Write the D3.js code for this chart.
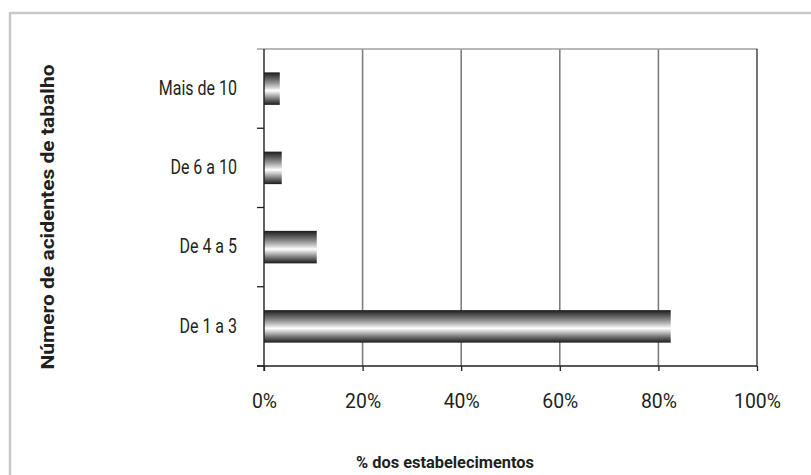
<!DOCTYPE html>
<html>
<head>
<meta charset="utf-8">
<script src="https://cdn.jsdelivr.net/npm/d3@7"></script>
<style>
  html, body { margin: 0; padding: 0; background: #fff; }
  svg { display: block; }
  text { font-family: Roboto, "Liberation Sans", sans-serif; fill: #231f20; }
</style>
</head>
<body>
<svg id="chart" width="811" height="475"></svg>
<script>
// Número de acidentes de tabalho por faixa, em % dos estabelecimentos
const categories = ["Mais de 10", "De 6 a 10", "De 4 a 5", "De 1 a 3"];
const shares = [3.2, 3.6, 10.7, 82.5];
const tickValues = [0, 20, 40, 60, 80, 100];
const xTitle = "% dos estabelecimentos";
const yTitle = "Número de acidentes de tabalho";

const svg = d3.select("#chart");
const plot = { left: 264, right: 757, top: 49, bottom: 366 };

// Frame (top and left rules)
svg.append("line").attr("x1", 10).attr("x2", 811).attr("y1", 13).attr("y2", 13)
  .attr("stroke", "#c8c8c8").attr("stroke-width", 2.5);
svg.append("line").attr("x1", 10).attr("x2", 10).attr("y1", 12).attr("y2", 475)
  .attr("stroke", "#c8c8c8").attr("stroke-width", 2.5);

const x = d3.scaleLinear().domain([0, 100]).range([plot.left, plot.right]);
const y = d3.scaleBand().domain(categories).range([plot.top, plot.bottom])
  .paddingInner(0.59).paddingOuter(0.295);

// Bar shading: dark edges, light centre
const defs = svg.append("defs");
const grad = defs.append("linearGradient").attr("id", "barShade")
  .attr("x1", 0).attr("y1", 0).attr("x2", 0).attr("y2", 1);
[[0, "#1a1a1a"], [0.12, "#474747"], [0.3, "#888888"], [0.48, "#d6d6d6"], [0.56, "#ffffff"],
 [0.66, "#cccccc"], [0.84, "#6a6a6a"], [1, "#1c1c1c"]]
  .forEach(([o, c]) => grad.append("stop").attr("offset", o).attr("stop-color", c));

// Vertical gridlines
svg.append("g").selectAll("line").data(tickValues.filter(d => d > 0 && d < 100)).join("line")
  .attr("x1", d => x(d)).attr("x2", d => x(d))
  .attr("y1", plot.top).attr("y2", plot.bottom)
  .attr("stroke", "#7e7e7e").attr("stroke-width", 1.6);

// Plot area border (top and right)
svg.append("line").attr("x1", plot.left - 7).attr("x2", plot.right + 0.5)
  .attr("y1", plot.top).attr("y2", plot.top)
  .attr("stroke", "#a0a0a0").attr("stroke-width", 1.6);
svg.append("line").attr("x1", plot.right).attr("x2", plot.right)
  .attr("y1", plot.top).attr("y2", plot.bottom)
  .attr("stroke", "#3a3a3a").attr("stroke-width", 1.4);

// Bars
svg.append("g").selectAll("rect").data(categories).join("rect")
  .attr("x", x(0))
  .attr("y", d => y(d))
  .attr("width", (d, i) => x(shares[i]) - x(0))
  .attr("height", y.bandwidth())
  .attr("fill", "url(#barShade)");

// Category boundary ticks
const bounds = d3.range(1, categories.length + 1)
  .map(i => plot.top + i * (plot.bottom - plot.top) / categories.length);
svg.append("g").selectAll("line").data(bounds).join("line")
  .attr("x1", plot.left - 7).attr("x2", plot.left)
  .attr("y1", d => d).attr("y2", d => d)
  .attr("stroke", "#231f20").attr("stroke-width", 1.3);

// Category axis line
svg.append("line").attr("x1", plot.left).attr("x2", plot.left)
  .attr("y1", plot.top).attr("y2", plot.bottom + 5)
  .attr("stroke", "#231f20").attr("stroke-width", 1.4);

// Category labels (condensed)
svg.append("g").selectAll("text").data(categories).join("text")
  .attr("transform", d => `translate(237,${y(d) + y.bandwidth() / 2 - 1}) scale(0.8,1)`)
  .attr("dy", "0.36em")
  .attr("text-anchor", "end")
  .style("font-size", "20px")
  .text(d => d);

// Value axis
const xAxis = d3.axisBottom(x).tickValues(tickValues)
  .tickFormat(d => d + "%").tickSize(5).tickPadding(23);
const gx = svg.append("g").attr("transform", `translate(0,${plot.bottom})`).call(xAxis);
gx.select(".domain").remove();
gx.selectAll(".tick line").attr("stroke", "#231f20").attr("stroke-width", 1.3);
gx.selectAll(".tick text")
  .style("font-size", "20px").style("font-family", "Roboto, sans-serif")
  .attr("fill", "#231f20")
  .attr("transform", "scale(0.97,1)");
svg.append("line").attr("x1", plot.left - 7).attr("x2", plot.right)
  .attr("y1", plot.bottom).attr("y2", plot.bottom)
  .attr("stroke", "#231f20").attr("stroke-width", 1.4);

// Axis titles
svg.append("text").attr("x", 445).attr("y", 468)
  .attr("text-anchor", "middle")
  .attr("textLength", 178).attr("lengthAdjust", "spacingAndGlyphs")
  .style("font-size", "16px").style("font-weight", "bold")
  .text(xTitle);

svg.append("text")
  .attr("transform", "translate(54,217) rotate(-90)")
  .attr("text-anchor", "middle")
  .attr("textLength", 305).attr("lengthAdjust", "spacingAndGlyphs")
  .style("font-size", "19px").style("font-weight", "bold")
  .text(yTitle);
</script>
</body>
</html>
